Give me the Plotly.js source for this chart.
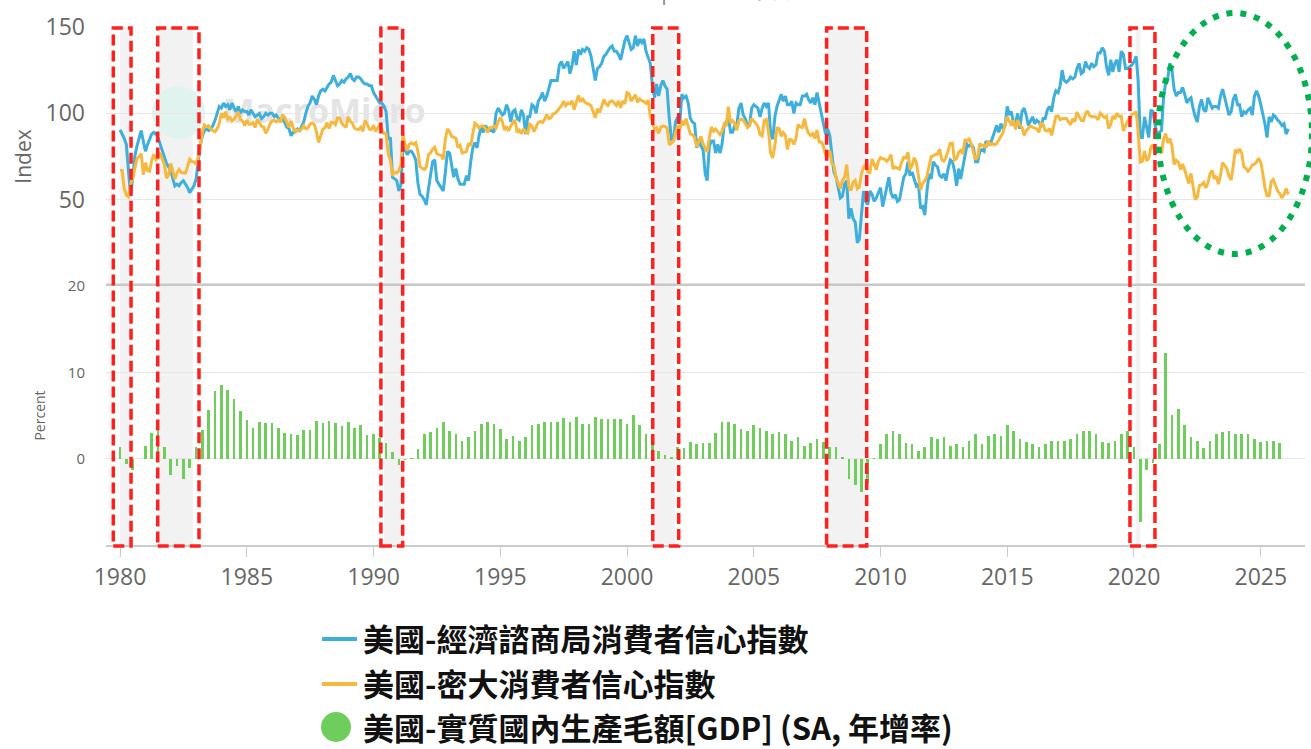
<!DOCTYPE html>
<html>
<head>
<meta charset="utf-8">
<script src="https://cdn.plot.ly/plotly-3.0.1.min.js"></script>
<style>
html,body{margin:0;padding:0;background:#ffffff;}
#chart{width:1311px;height:749px;}
</style>
</head>
<body>
<div id="chart"></div>
<script>
// ---------------- DATA ----------------
const startYear = 1980;

const seriesNames = [
  '美國-經濟諮商局消費者信心指數',
  '美國-密大消費者信心指數',
  '美國-實質國內生產毛額[GDP] (SA, 年增率)'
];

// Conference Board consumer confidence, monthly from 1980-01
const cbIndex = [
  90.5,88,85.5,82,66,52,62,75,81,85,90,84,          // 1980
  78,82,85,88,89,88,86,82,78,75,71,69,              // 1981
  67,62,58,59,58,60,61,59,57,54,56,58,              // 1982
  62,72,81,87,90,91,90,91,93,96,100,104,            // 1983
  103,106,104,105,102,106,103,101,104,100,102,101,  // 1984
  101,99,102,100,98,99,100,97,98,100,99,100,        // 1985
  100,98,99,97,96,97,94,92,91,87,89,90,             // 1986
  91,90,92,95,100,104,106,110,108,105,110,113,      // 1987
  114,113,115,117,118,122,119,116,117,119,118,120,  // 1988
  121,123,120,119,121,121,120,118,117,117,116,116,  // 1989
  112,110,108,106,106,104,101,85,86,63,62,61,       // 1990
  55,59,81,79,76,78,78,76,73,60,53,52,              // 1991
  50,47,56,65,72,73,61,59,57,55,66,78,              // 1992
  77,69,63,68,62,59,59,59,64,61,72,80,              // 1993
  83,80,87,92,89,93,91,90,90,89,100,103,            // 1994
  101,99,100,105,102,95,101,102,97,96,102,99,       // 1995
  88,98,98,105,104,100,107,109,112,107,110,114,     // 1996
  119,119,119,119,128,130,126,128,130,123,128,136,  // 1997
  128,137,134,137,136,138,137,133,126,119,126,127,  // 1998
  129,133,134,136,138,139,136,136,134,131,137,142,  // 1999
  145,141,137,138,145,139,143,141,143,136,133,129,  // 2000
  116,109,117,110,116,119,116,114,97,85,85,95,      // 2001
  98,95,111,109,110,106,97,95,94,80,85,81,          // 2002
  79,65,61,81,84,84,77,82,77,82,93,95,              // 2003
  98,89,89,93,93,103,106,99,97,93,93,103,           // 2004
  105,104,103,98,103,106,104,106,88,85,98,104,      // 2005
  107,111,107,110,105,105,107,100,106,105,105,110,  // 2006
  110,111,108,106,109,105,112,106,100,95,88,91,     // 2007
  87,76,66,63,58,51,52,59,61,39,45,39,              // 2008
  37,25,27,41,55,49,47,55,53,49,51,54,              // 2009
  57,46,52,58,63,54,51,53,49,50,58,63,              // 2010
  65,72,64,66,62,58,59,45,46,41,55,65,              // 2011
  62,72,70,69,64,63,65,61,68,73,72,67,              // 2012
  58,68,62,69,76,82,81,82,80,72,72,78,              // 2013
  79,78,84,82,82,86,90,93,89,94,91,93,              // 2014
  104,99,101,94,95,100,91,101,103,99,93,96,         // 2015
  98,94,96,95,92,97,97,102,104,101,109,113,         // 2016
  112,116,125,119,118,119,121,120,121,126,129,123,  // 2017
  124,130,127,126,129,127,128,135,135,138,136,127,  // 2018
  122,131,124,129,131,124,136,134,126,126,127,128,  // 2019
  130,133,119,86,86,98,92,86,102,101,93,87,         // 2020
  89,90,109,118,120,129,125,114,110,112,112,115,    // 2021
  111,106,108,109,103,98,95,104,108,102,101,109,    // 2022
  106,103,104,104,103,110,114,109,104,99,101,108,   // 2023
  111,105,105,98,101,100,102,103,99,110,113,110,    // 2024
  105,100,94,86,98,95,99,98,96,95,93,94,            // 2025
  88,91                                             // 2026
];

// University of Michigan consumer sentiment, monthly from 1980-01
const michIndex = [
  67.0,66.9,56.5,52.7,51.7,58.7,62.3,67.4,73.7,75.0,76.7,64.5,       // 1980
  71.4,66.9,66.5,72.4,76.3,73.1,74.1,77.2,73.1,70.3,62.5,64.3,       // 1981
  71.0,66.5,62.0,65.5,67.5,65.7,65.4,65.4,69.3,73.4,72.1,71.9,       // 1982
  70.4,74.6,80.8,89.1,93.3,92.2,92.8,90.9,89.9,89.3,91.1,94.2,       // 1983
  100.1,97.4,101.0,96.1,98.1,95.5,96.6,99.1,100.9,96.3,95.7,92.9,    // 1984
  96.0,93.7,93.7,94.6,91.8,96.5,94.0,92.4,92.1,88.4,90.9,93.9,       // 1985
  95.6,95.9,95.1,96.2,94.8,99.3,97.7,94.9,91.9,95.6,91.4,89.1,       // 1986
  90.4,90.2,90.8,92.8,91.1,91.5,93.7,94.4,93.6,89.3,83.1,86.8,       // 1987
  90.8,91.6,94.6,91.2,94.8,94.7,93.4,97.4,97.3,94.1,93.0,91.9,       // 1988
  97.9,95.4,94.3,91.5,90.7,90.6,92.0,89.6,95.8,93.9,90.9,90.5,       // 1989
  93.0,89.5,91.3,93.9,90.6,88.3,88.2,76.4,72.8,63.9,66.0,65.5,       // 1990
  66.8,70.4,87.7,81.8,78.3,82.1,82.9,82.0,83.0,78.3,69.1,68.2,       // 1991
  67.5,68.8,76.0,77.2,79.2,80.4,76.6,76.1,75.6,73.3,85.3,91.0,       // 1992
  89.3,86.6,85.9,85.6,80.3,81.5,77.0,77.3,77.9,82.7,81.2,88.2,       // 1993
  94.3,93.2,91.5,92.6,92.8,91.2,89.0,91.7,91.5,92.7,91.6,95.1,       // 1994
  97.6,95.1,90.3,92.5,89.8,92.7,94.4,96.2,88.9,90.2,88.2,91.0,       // 1995
  89.3,88.5,93.7,92.7,89.4,92.4,94.7,95.3,94.7,96.5,99.2,96.9,       // 1996
  97.4,99.7,100.0,101.4,103.2,104.5,107.1,104.4,106.0,105.6,107.2,102.1, // 1997
  106.6,110.4,106.5,108.7,106.5,105.6,105.2,104.4,100.9,97.4,102.7,100.5, // 1998
  103.9,108.1,105.7,104.6,106.8,107.3,106.0,104.5,107.2,103.2,107.2,105.4, // 1999
  112.0,111.3,107.1,109.2,110.7,106.4,108.3,107.3,106.8,105.8,107.6,98.4, // 2000
  94.7,90.6,91.5,88.4,92.0,92.6,92.4,91.5,81.8,82.7,83.9,88.8,       // 2001
  93.0,90.7,95.7,93.0,96.9,92.4,88.1,87.6,86.1,80.6,84.2,86.7,       // 2002
  82.4,79.9,77.6,86.0,92.1,89.7,90.9,89.3,87.7,89.6,93.7,92.6,       // 2003
  103.8,94.4,95.8,94.2,90.2,95.6,96.7,95.9,94.2,91.7,92.8,97.1,      // 2004
  95.5,94.1,92.6,87.7,86.9,96.0,96.5,89.1,76.9,74.2,81.6,91.5,       // 2005
  91.2,86.7,88.9,87.4,79.1,84.9,84.7,82.0,85.4,93.6,92.1,91.7,       // 2006
  96.9,91.3,88.4,87.1,88.3,85.3,90.4,83.4,83.4,80.9,76.1,75.5,       // 2007
  78.4,70.8,69.5,62.6,59.8,56.4,61.2,63.0,70.3,57.6,55.3,60.1,       // 2008
  61.2,56.3,57.3,65.1,68.7,70.8,66.0,65.7,73.5,70.6,67.4,72.5,       // 2009
  74.4,73.6,73.6,72.2,73.6,76.0,67.8,68.9,68.2,67.7,71.6,74.5,       // 2010
  74.2,77.5,67.5,69.8,74.3,71.5,63.7,55.8,59.5,60.8,63.7,69.9,       // 2011
  75.0,75.3,76.2,76.4,79.3,73.2,72.3,74.3,78.3,82.6,82.7,72.9,       // 2012
  73.8,77.6,78.6,76.4,84.5,84.1,85.1,82.1,77.5,73.2,75.1,82.5,       // 2013
  81.2,81.6,80.0,84.1,81.9,82.5,81.8,82.5,84.6,86.9,88.8,93.6,       // 2014
  98.1,95.4,93.0,95.9,90.7,96.1,93.1,91.9,87.2,90.0,91.3,92.6,       // 2015
  92.0,91.7,91.0,89.0,94.7,93.5,90.0,89.8,91.2,87.2,93.8,98.2,       // 2016
  98.5,96.3,96.9,97.0,97.1,95.0,93.4,96.8,95.1,100.7,98.5,95.9,      // 2017
  95.7,99.7,101.4,98.8,98.0,98.2,97.9,96.2,100.1,98.6,97.5,98.3,     // 2018
  91.2,93.8,98.4,97.2,100.0,98.2,98.4,89.8,93.2,95.5,96.8,99.3,      // 2019
  99.8,101.0,89.1,71.8,72.3,78.1,72.5,74.1,80.4,81.8,76.9,80.7,      // 2020
  79.0,76.8,84.9,88.3,82.9,85.5,81.2,70.3,72.8,71.7,67.4,70.6,       // 2021
  67.2,62.8,59.4,65.2,58.4,50.0,51.5,58.2,58.6,59.9,56.8,59.7,       // 2022
  64.9,67.0,62.0,63.7,59.0,64.2,71.5,69.4,67.9,63.8,61.3,69.7,       // 2023
  79.0,76.9,79.4,77.2,69.1,68.2,66.4,67.9,70.1,70.5,71.8,74.0,       // 2024
  71.7,64.7,57.0,52.2,52.2,60.7,61.7,58.2,55.1,53.6,51.0,52.9,       // 2025
  56.4,53.0                                                          // 2026
];

// Real GDP, year-over-year %, quarterly from 1980Q1
const gdpYoY = [
  1.4,-0.6,-1.3,0.0,   1.5,3.0,3.2,1.3,   -1.9,-0.8,-2.4,-1.1,  1.4,3.3,5.6,7.8,    // 1980-83
  8.5,7.9,6.9,5.5,     4.5,3.6,4.3,4.1,   4.1,3.6,3.0,2.9,      2.7,3.3,3.3,4.4,    // 1984-87
  4.1,4.4,4.1,3.8,     4.3,3.6,3.9,2.7,   2.9,2.4,1.8,0.8,      -0.7,-0.1,0.05,1.1, // 1988-91
  2.9,3.1,3.6,4.3,     3.2,2.8,2.1,2.5,   3.2,4.0,4.2,4.0,      3.4,2.3,2.6,2.1,    // 1992-95
  2.5,3.9,4.0,4.3,     4.2,4.2,4.7,4.3,   4.8,4.0,4.0,4.8,      4.6,4.6,4.6,4.6,    // 1996-99
  4.0,5.1,3.9,2.8,     2.2,0.9,0.4,0.2,   1.3,1.2,1.9,1.7,      1.8,1.8,3.0,4.2,    // 2000-03
  4.2,4.0,3.4,3.2,     3.9,3.6,3.2,2.9,   3.1,2.9,2.1,2.5,      1.5,1.8,2.3,1.9,    // 2004-07
  1.4,1.3,0.2,-2.4,    -3.0,-3.9,-2.8,0.1, 1.7,2.8,3.2,2.8,     1.8,1.7,0.9,1.3,    // 2008-11
  2.5,2.3,2.5,1.5,     1.7,1.3,2.1,2.9,   1.7,2.6,2.9,2.6,      3.9,3.2,2.3,1.9,    // 2012-15
  1.7,1.3,1.7,2.1,     2.0,2.1,2.3,2.9,   3.2,3.2,2.9,1.9,      1.8,2.1,2.8,3.2,    // 2016-19
  1.3,-7.3,-1.3,-0.5,  1.7,12.2,5.1,5.8,  3.9,2.5,2.1,1.2,      2.1,2.8,3.1,3.2,    // 2020-23
  2.8,2.9,2.8,2.3,     1.9,2.0,2.1,1.8                                              // 2024-25
];

const tickYears = [1980,1985,1990,1995,2000,2005,2010,2015,2020,2025];

// recession shading (start, end)
const recessions = [
  ['1980-01-01','1980-06-01'],
  ['1981-07-15','1982-11-15'],
  ['1990-06-01','1991-02-01'],
  ['2001-01-15','2001-12-01'],
  ['2007-12-01','2009-06-01'],
  ['2020-02-01','2020-04-01']
];

// red dashed highlight boxes (start, end)
const highlightBoxes = [
  ['1979-09-26','1980-06-08'],
  ['1981-06-27','1983-02-12'],
  ['1990-04-17','1991-02-25'],
  ['2001-01-06','2002-01-15'],
  ['2007-11-16','2009-06-16'],
  ['2019-11-04','2020-10-29']
];

// green dotted ellipse (start, end)
const ellipseSpan = ['2020-12-12','2027-01-08'];

// ---------------- HELPERS ----------------
function monthDates(n){
  const out=[];
  for(let i=0;i<n;i++){
    const y=startYear+Math.floor(i/12), m=i%12+1;
    out.push(y+'-'+String(m).padStart(2,'0')+'-01');
  }
  return out;
}
function quarterDates(n){
  const out=[];
  for(let i=0;i<n;i++){
    const y=startYear+Math.floor(i/4), m=(i%4)*3+1;
    out.push(y+'-'+String(m).padStart(2,'0')+'-01');
  }
  return out;
}

const W=1311, H=749, ML=106, MR=6, MT=27, MB=204;
const PW=W-ML-MR, PH=H-MT-MB;
const xRange=['1979-06-13','2026-09-30'];
const t0=Date.parse(xRange[0]), t1=Date.parse(xRange[1]);
const dateToPaper = d => (Date.parse(d)-t0)/(t1-t0);
const pxX = x => (x-ML)/PW;
const pxY = y => (H-MB-y)/PH;

const BLUE='#3eaedb', ORANGE='#f6b940', GREEN='#6fcd5c';
const AXC='#666666';

// ---------------- TRACES ----------------
const traces = [
  {
    type:'bar', x:quarterDates(gdpYoY.length), y:gdpYoY, xaxis:'x', yaxis:'y2',
    marker:{color:GREEN}, width:38*86400000, name:seriesNames[2], showlegend:false,
    hoverinfo:'skip'
  },
  {
    type:'scatter', mode:'lines', x:monthDates(cbIndex.length), y:cbIndex, xaxis:'x', yaxis:'y',
    line:{color:BLUE, width:3}, name:seriesNames[0], showlegend:false, hoverinfo:'skip'
  },
  {
    type:'scatter', mode:'lines', x:monthDates(michIndex.length), y:michIndex, xaxis:'x', yaxis:'y',
    line:{color:ORANGE, width:3}, name:seriesNames[1], showlegend:false, hoverinfo:'skip'
  }
];

// ---------------- SHAPES ----------------
const shapes = [];
recessions.forEach(r=>{
  shapes.push({type:'rect', xref:'x', yref:'paper', layer:'below',
    x0:r[0], x1:r[1], y0:0, y1:1, fillcolor:'#f2f2f2', line:{width:0}});
});
// watermark (over the shading, under the lines)
shapes.push({type:'circle', xref:'paper', yref:'paper', layer:'below',
  x0:pxX(152), x1:pxX(205), y0:pxY(139), y1:pxY(86),
  fillcolor:'#dff3ee', opacity:0.9, line:{width:0}});
shapes.push({type:'rect', xref:'paper', yref:'paper', layer:'below',
  x0:pxX(216), x1:pxX(432), y0:pxY(135), y1:pxY(88),
  fillcolor:'rgba(0,0,0,0)', line:{width:0},
  label:{text:'<b>MacroMicro</b>', font:{family:'Open Sans, sans-serif', size:34, color:'#e4e4e4'}, textposition:'middle center'}});
// separator between panels
shapes.push({type:'line', xref:'paper', yref:'y', layer:'below',
  x0:0, x1:1, y0:0, y1:0, line:{color:'#c8c8c8', width:5}});
highlightBoxes.forEach(b=>{
  shapes.push({type:'rect', xref:'x', yref:'paper', layer:'above',
    x0:b[0], x1:b[1], y0:pxY(546), y1:pxY(28),
    fillcolor:'rgba(0,0,0,0)', line:{color:'#ff2020', width:3.5, dash:'11px,5px'}});
});
shapes.push({type:'circle', xref:'paper', yref:'paper', layer:'above',
  x0:dateToPaper(ellipseSpan[0]), x1:dateToPaper(ellipseSpan[1]),
  y0:pxY(254), y1:pxY(13),
  line:{color:'#00b050', width:6, dash:'6px,8px'}});
// legend symbols
const legendRows = [637, 682, 726];
shapes.push({type:'line', xref:'paper', yref:'paper', x0:pxX(322), x1:pxX(357), y0:pxY(legendRows[0]+2), y1:pxY(legendRows[0]+2), line:{color:BLUE, width:4}});
shapes.push({type:'line', xref:'paper', yref:'paper', x0:pxX(322), x1:pxX(357), y0:pxY(legendRows[1]+2), y1:pxY(legendRows[1]+2), line:{color:ORANGE, width:4}});
shapes.push({type:'circle', xref:'paper', yref:'paper', x0:pxX(321), x1:pxX(351), y0:pxY(legendRows[2]+16), y1:pxY(legendRows[2]-14), fillcolor:GREEN, line:{width:0}});

// ---------------- ANNOTATIONS ----------------
const legendFont = {family:'"Noto Sans CJK TC", "Noto Sans", sans-serif', size:31, color:'#111111', weight:'bold'};
const annotations = legendRows.map((yy,i)=>({
  xref:'paper', yref:'paper', x:pxX(361), y:pxY(yy), xanchor:'left', yanchor:'middle',
  showarrow:false, text:seriesNames[i], font:legendFont
}));
annotations.push({xref:'paper', yref:'paper', x:pxX(655), y:pxY(8), xanchor:'center', yanchor:'bottom', showarrow:false,
   text:'MacroMicro | 財經M平方', font:{family:'"Noto Sans CJK TC", "Open Sans", sans-serif', size:26, color:'#888888'}});

// ---------------- LAYOUT ----------------
const layout = {
  width:W, height:H,
  margin:{l:ML, r:MR, t:MT, b:MB, pad:0},
  paper_bgcolor:'#ffffff', plot_bgcolor:'#ffffff',
  showlegend:false, hovermode:false, bargap:0,
  font:{family:'"Open Sans", "Noto Sans", sans-serif', color:AXC},
  xaxis:{
    type:'date', range:xRange, anchor:'y2',
    tickmode:'array', tickvals:tickYears.map(y=>y+'-01-01'), ticktext:tickYears.map(String),
    tickfont:{size:23, color:AXC}, ticks:'outside', ticklen:10, tickcolor:'#cccccc', tickwidth:1,
    showline:true, linecolor:'#cccccc', linewidth:2, showgrid:false, zeroline:false, fixedrange:true
  },
  yaxis:{
    domain:[0.5,1], range:[0,150], anchor:'x',
    tickmode:'array', tickvals:[50,100,150],
    tickfont:{size:23, color:AXC}, ticklabelstandoff:20,
    showgrid:true, gridcolor:'#e6e6e6', gridwidth:1.5, zeroline:false, showline:false, fixedrange:true,
    title:{text:'Index', font:{size:21, color:AXC}, standoff:8}
  },
  yaxis2:{
    domain:[0,0.5], range:[-10,20], anchor:'x',
    tickmode:'array', tickvals:[0,10,20],
    tickfont:{size:15, color:AXC}, ticklabelstandoff:20,
    showgrid:true, gridcolor:'#e6e6e6', gridwidth:1.5, zeroline:true, zerolinecolor:'#e6e6e6', zerolinewidth:1.5,
    showline:false, fixedrange:true,
    title:{text:'Percent', font:{size:14, color:AXC}, standoff:18}
  },
  shapes:shapes,
  annotations:annotations
};

Plotly.newPlot('chart', traces, layout, {displayModeBar:false, staticPlot:true});
</script>
</body>
</html>
